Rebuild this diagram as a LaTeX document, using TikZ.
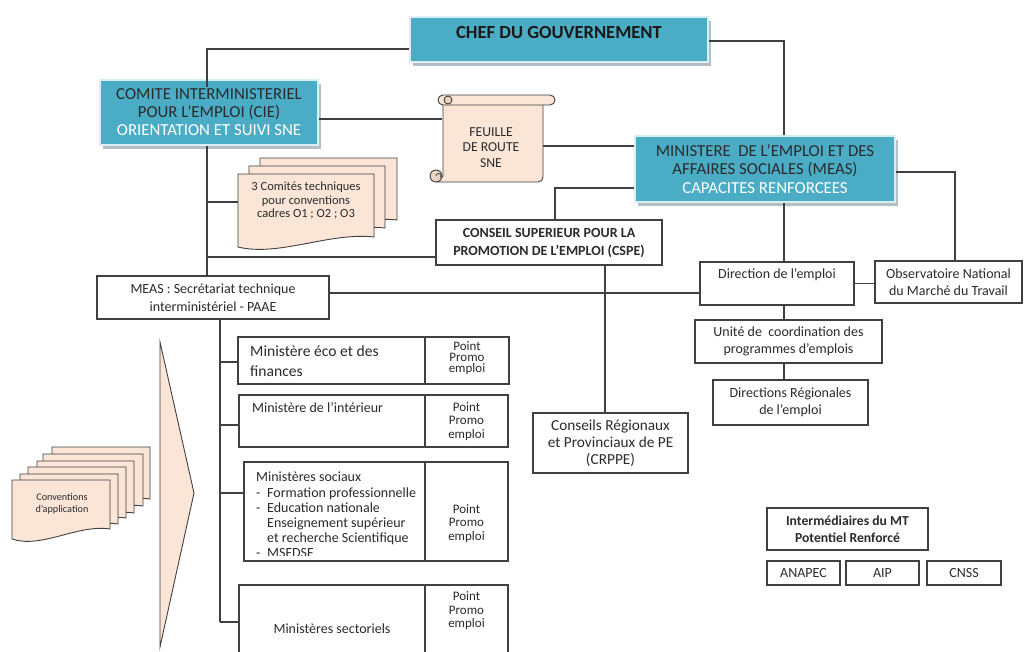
\documentclass[tikz,border=0pt]{standalone}
\usepackage{fontspec}
\setmainfont{Carlito}
\usetikzlibrary{calc,shadows}
\definecolor{teal1}{HTML}{4BACC6}
\definecolor{shad}{HTML}{B4BEC6}
\definecolor{peach}{HTML}{FBE5D6}
\definecolor{curl}{HTML}{EBD3C2}
\definecolor{linec}{HTML}{404040}
\definecolor{txtc}{HTML}{2B2B2B}
\newcommand\fsz[2]{\fontsize{#1}{#2}\selectfont}
\newcommand\docsheet[4]{%
  \filldraw[peachshape] (#1,#2) -- (#3,#2) -- (#3,#4)
    .. controls ({#3-0.33*(#3-#1)},{#4-5}) and ({#1+0.3*(#3-#1)},{#4+20}) .. (#1,{#4+10}) -- cycle;}
\tikzset{
  conn/.style={draw=linec, line width=1.2pt},
  box/.style={draw=linec, line width=1.1pt, fill=white, inner sep=0pt, text=txtc, align=center},
  tealbox/.style={fill=teal1, draw=white!80!teal1, line width=1.2pt, inner sep=0pt, align=center, text=txtc,
    drop shadow={shadow xshift=3pt, shadow yshift=-4pt, fill=shad, opacity=1}},
  peachshape/.style={fill=peach, draw=linec, line width=0.9pt},
  lbl/.style={inner sep=0pt, text=txtc, align=center},
  ghost/.style={inner sep=0pt, draw=none},
  pp/.style={lbl, font=\fsz{13}{13.5}},
}
\begin{document}
\begin{tikzpicture}[x=1pt,y=-1pt]
\useasboundingbox[fill=white] (0,0) rectangle (1025,652);

% ---- teal boxes
\node[tealbox, minimum width=298, minimum height=45] (chef) at (559,39.5) {};
\node[lbl, text=black!90, font=\fsz{18.5}{20}\bfseries] (chefT) at (559,33) {CHEF DU GOUVERNEMENT};
\node[tealbox, minimum width=218, minimum height=65, font=\fsz{16.8}{18}] (cie) at (209,112.5)
  {COMITE INTERMINISTERIEL\\POUR L’EMPLOI (CIE)\\\textcolor{white}{ORIENTATION ET SUIVI SNE}};
\node[tealbox, minimum width=260, minimum height=66, font=\fsz{16.8}{18.3}] (meas) at (765,169)
  {MINISTERE\ \ DE L’EMPLOI ET DES\\AFFAIRES SOCIALES (MEAS)\\\textcolor{white}{CAPACITES RENFORCEES}};

% ---- feuille de route (scroll)
\node[ghost, minimum width=101, minimum height=82] (feuille) at (492.5,141) {};
\filldraw[peachshape] (443,100) -- (543,100) -- (543,177) arc[start angle=0,end angle=90,radius=5] -- (437,182) -- (443,176) -- cycle;
\filldraw[peachshape] (443,95) -- (550,95) arc[start angle=-90,end angle=90,radius=5] -- (443,105) arc[start angle=90,end angle=270,radius=5];
\filldraw[peachshape, fill=curl] (448,100) circle[radius=4];
\filldraw[peachshape, fill=curl] (436,176) circle[radius=6];
\draw[linec, line width=0.8pt] (436,176) arc[start angle=180,end angle=400,radius=2.5];
\node[lbl, font=\fsz{13.7}{15.5}] (feuilleT) at (491,147.5) {FEUILLE\\DE ROUTE\\SNE};

% ---- 3 comites techniques
\docsheet{260}{158}{397}{220}
\docsheet{249}{166}{385}{228}
\docsheet{238}{174}{374}{237}
\node[ghost, minimum width=136, minimum height=56] (comA) at (306,202) {};
\node[lbl, font=\fsz{12.5}{13.3}] (comT) at (306,200.5) {3 Comités techniques\\pour conventions\\cadres O1 ; O2 ; O3};

% ---- white boxes
\node[box, minimum width=226, minimum height=45, font=\fsz{14}{18}\bfseries] (cspe) at (549,242.5)
  {CONSEIL SUPERIEUR POUR LA\\PROMOTION DE L’EMPLOI (CSPE)};
\node[box, minimum width=232, minimum height=43, font=\fsz{14}{18}] (sec) at (213,297.5)
  {MEAS : Secrétariat technique\\interministériel - PAAE};
\node[box, minimum width=154, minimum height=43] (dir) at (777,283.5) {};
\node[lbl, font=\fsz{14}{17}] (dirT) at (777,275) {Direction de l’emploi};
\node[box, minimum width=147, minimum height=42, font=\fsz{14}{17}] (obs) at (948.5,282)
  {Observatoire National\\du Marché du Travail};
\node[box, minimum width=187, minimum height=43, font=\fsz{14}{17}] (unite) at (788.5,341.5)
  {Unité de\ \ coordination des\\programmes d’emplois};
\node[box, minimum width=155, minimum height=45, font=\fsz{14}{17}] (dirreg) at (790.5,402.5)
  {Directions Régionales\\de l’emploi};
\node[box, minimum width=155, minimum height=60, font=\fsz{15.3}{17}] (crppe) at (610.5,443)
  {Conseils Régionaux\\et Provinciaux de PE\\(CRPPE)};
\node[box, minimum width=161, minimum height=42, font=\fsz{13.7}{17}\bfseries] (inter) at (847.5,529)
  {Intermédiaires du MT\\Potentiel Renforcé};
\node[box, minimum width=73, minimum height=24, font=\fsz{14}{17}] (anapec) at (803.5,573) {ANAPEC};
\node[box, minimum width=73, minimum height=24, font=\fsz{14}{17}] (aip) at (882.5,573) {AIP};
\node[box, minimum width=74, minimum height=24, font=\fsz{14}{17}] (cnss) at (964,573) {CNSS};

% ---- ministries
\node[box, minimum width=187, minimum height=47] (eco) at (331.5,360.5) {};
\node[box, minimum width=84, minimum height=47] (ecoP) at (467,360.5) {};
\node[lbl, anchor=west, align=left, font=\fsz{15.6}{20}] (ecoT) at (250,361) {Ministère éco et des\\finances};
\node[lbl, font=\fsz{13}{11}] (ecoPT) at (467,358) {Point\\Promo\\emploi};

\node[box, minimum width=186, minimum height=52] (int) at (332,421) {};
\node[box, minimum width=83, minimum height=52] (intP) at (466.5,421) {};
\node[lbl, anchor=west, font=\fsz{14}{17}] (intT) at (252,408) {Ministère de l’intérieur};
\node[pp] (intPT) at (466.5,421.5) {Point\\Promo\\emploi};

\node[box, minimum width=181, minimum height=99] (soc) at (334.5,511.5) {};
\node[box, minimum width=83, minimum height=99] (socP) at (466.5,511.5) {};
\begin{scope}
\clip (245,463) rectangle (424,555);
\node[lbl, anchor=north west, align=left, font=\fsz{14}{15.2}] (socT) at (256,472)
  {Ministères sociaux\\\makebox[11pt][l]{-}Formation professionnelle\\\makebox[11pt][l]{-}Education nationale\\\hspace*{11pt}Enseignement supérieur\\\hspace*{11pt}et recherche Scientifique\\\makebox[11pt][l]{-}MSFDSF};
\end{scope}
\node[pp] (socPT) at (466.5,523.5) {Point\\Promo\\emploi};

\node[box, minimum width=186, minimum height=80] (sect) at (332,625) {};
\node[box, minimum width=83, minimum height=80] (sectP) at (466.5,625) {};
\node[lbl, font=\fsz{14}{17}] (sectT) at (332,629) {Ministères sectoriels};
\node[pp] (sectPT) at (466.5,611) {Point\\Promo\\emploi};

% ---- chevron and conventions
\filldraw[peachshape] (160,342) -- (194,493) -- (160,647) -- cycle;
\node[ghost] (chev) at (172,493) {};
\docsheet{52}{447}{150}{499}
\docsheet{43}{454}{143}{506}
\docsheet{37}{461}{134}{513}
\docsheet{28}{467}{126}{518}
\docsheet{20}{474}{118}{524}
\docsheet{12}{480}{110}{529}
\node[lbl, font=\fsz{10.2}{12}] (convT) at (62,504) {Conventions\\d’application};

% ---- connectors
\coordinate (sp1) at (207,49);
\draw[conn] (chef.west |- sp1) -- (sp1) -- ($(sp1 |- cie.north)+(0,8)$);
\draw[conn] (sp1 |- cie.south) -- (sp1 |- sec.north);
\draw[conn] (comA.west) -- (comA.west -| sp1);
\coordinate (c1) at ($(cspe.west)+(0,14.5)$);
\draw[conn] (c1) -- (c1 -| sp1);
\coordinate (c2) at ($(cie.east)+(0,6.5)$);
\draw[conn] (c2) -- (c2 -| feuille.west);
\coordinate (c3) at ($(meas.west)+(0,-23)$);
\draw[conn] (c3) -- (c3 -| feuille.east);
\draw[conn] ($(chef.east)+(0,1.5)$) -| ($(meas.north)+(19,0)$);
\draw[conn] ($(meas.west)+(0,19)$) -| ($(cspe.north)+(6,0)$);
\draw[conn] ($(meas.east)+(0,3)$) -| ($(obs.north)+(6.5,0)$);
\draw[conn] ($(meas.south)+(19,0)$) -- ($(dir.north)+(7,0)$);
\coordinate (c5) at ($(sec.east)+(0,-4.5)$);
\draw[conn] (c5) -- (c5 -| dir.west);
\draw[conn] (dir.east) -- (dir.east -| obs.west);
\draw[conn] ($(dir.south)+(7,0)$) -- ($(unite.north)+(-4.5,0)$);
\draw[conn] ($(unite.south)+(-4.5,0)$) -- ($(dirreg.north)+(-6.5,0)$);
\draw[conn] ($(cspe.south)+(56,0)$) -- ($(crppe.north)+(-5.5,0)$);
\coordinate (sp2) at ($(sec.south)+(7,0)$);
\coordinate (b4) at ($(sect.west)+(0,-3)$);
\draw[conn] (sp2) -- (sp2 |- b4);
\coordinate (b1) at ($(eco.west)+(0,1.5)$);
\coordinate (b2) at ($(int.west)+(0,4)$);
\coordinate (b3) at ($(soc.west)+(0,-18.5)$);
\draw[conn] (b1 -| sp2) -- (b1);
\draw[conn] (b2 -| sp2) -- (b2);
\draw[conn] (b3 -| sp2) -- (b3);
\draw[conn] (b4 -| sp2) -- (b4);
\end{tikzpicture}
\end{document}
